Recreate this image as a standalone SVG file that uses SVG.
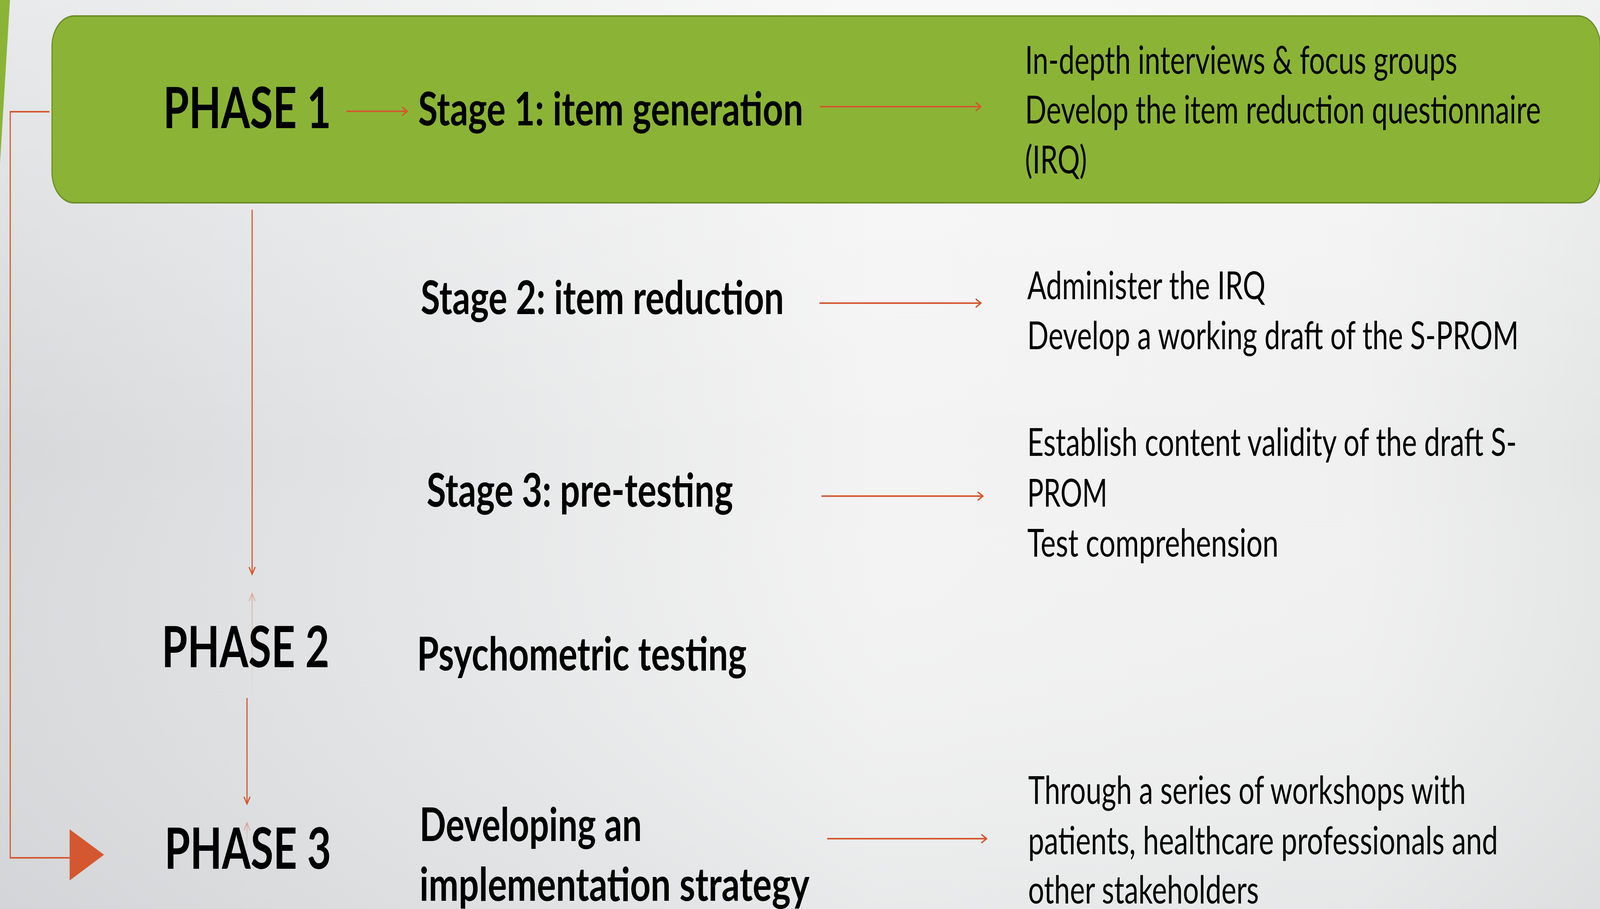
<svg xmlns="http://www.w3.org/2000/svg" width="5629" height="2327" viewBox="0 0 5629 2327" preserveAspectRatio="none" style="width:100vw;height:100vh;display:block">
  <defs>
    <linearGradient id="bgH" x1="0" y1="0" x2="1" y2="0">
      <stop offset="0" stop-color="#d6d8da"/>
      <stop offset="0.55" stop-color="#f3f3f3"/>
      <stop offset="0.85" stop-color="#f0f0f0"/>
      <stop offset="1" stop-color="#e4e5e5"/>
    </linearGradient>
    <linearGradient id="bgV" x1="0" y1="0" x2="0" y2="1">
      <stop offset="0" stop-color="#ffffff" stop-opacity="0.45"/>
      <stop offset="0.5" stop-color="#ffffff" stop-opacity="0"/>
      <stop offset="1" stop-color="#c8ccce" stop-opacity="0.25"/>
    </linearGradient>
    <linearGradient id="fade1" gradientUnits="userSpaceOnUse" x1="0" y1="1520" x2="0" y2="1780">
      <stop offset="0" stop-color="#D4572F" stop-opacity="0.3"/>
      <stop offset="1" stop-color="#D4572F" stop-opacity="0"/>
    </linearGradient>
    <linearGradient id="fade2" gradientUnits="userSpaceOnUse" x1="0" y1="2107" x2="0" y2="2172">
      <stop offset="0" stop-color="#D4572F" stop-opacity="0.3"/>
      <stop offset="1" stop-color="#D4572F" stop-opacity="0"/>
    </linearGradient>
    <marker id="ah" viewBox="0 0 24 24" markerWidth="24" markerHeight="24" refX="21" refY="12" orient="auto" markerUnits="userSpaceOnUse">
      <path d="M4,2 L21,12 L4,22" fill="none" stroke="#D4572F" stroke-width="4" stroke-linecap="round"/>
    </marker>
    <marker id="ahFaint" viewBox="0 0 24 24" markerWidth="24" markerHeight="24" refX="21" refY="12" orient="auto" markerUnits="userSpaceOnUse">
      <path d="M4,2 L21,12 L4,22" fill="none" stroke="#D4572F" stroke-opacity="0.3" stroke-width="4" stroke-linecap="round"/>
    </marker>
  </defs>
  <style>
    .phase { font-family: Lato, "Liberation Sans", sans-serif; font-weight: bold; font-size: 146px; fill: #000; }
    .stage { font-family: Lato, "Liberation Sans", sans-serif; font-weight: bold; font-size: 118px; fill: #000; }
    .body { font-family: Lato, "Liberation Sans", sans-serif; font-weight: normal; font-size: 98px; fill: #000; }
    .conn { fill: none; stroke: #D4572F; stroke-width: 4; }
  </style>

  <rect x="0" y="0" width="5629" height="2327" fill="url(#bgH)"/>
  <rect x="0" y="0" width="5629" height="2327" fill="url(#bgV)"/>
  <polygon points="0,0 35,0 0,418" fill="#8bb436"/>

  <g id="phase1-box">
    <rect x="183" y="41" width="5447" height="478" rx="78" ry="78" fill="#8bb436" stroke="#6b8e2a" stroke-width="4"/>
  </g>

  <g id="phase1">
    <text class="phase" x="574" y="328" textLength="591" lengthAdjust="spacingAndGlyphs">PHASE 1</text>
  </g>
  <g id="phase2">
    <text class="phase" x="569" y="1708" textLength="590" lengthAdjust="spacingAndGlyphs">PHASE 2</text>
  </g>
  <g id="phase3">
    <text class="phase" x="579" y="2224" textLength="586" lengthAdjust="spacingAndGlyphs">PHASE 3</text>
  </g>

  <g id="stage1">
    <text class="stage" x="1471" y="321" textLength="1355" lengthAdjust="spacingAndGlyphs">Stage 1: item generation</text>
  </g>
  <g id="stage2">
    <text class="stage" x="1480" y="804" textLength="1278" lengthAdjust="spacingAndGlyphs">Stage 2: item reduction</text>
  </g>
  <g id="stage3">
    <text class="stage" x="1501" y="1297" textLength="1078" lengthAdjust="spacingAndGlyphs">Stage 3: pre-testing</text>
  </g>
  <g id="psychometric">
    <text class="stage" x="1467" y="1716" textLength="1160" lengthAdjust="spacingAndGlyphs">Psychometric testing</text>
  </g>
  <g id="implementation">
    <text class="stage" x="1476" y="2153" textLength="782" lengthAdjust="spacingAndGlyphs">Developing an</text>
    <text class="stage" x="1476" y="2306" textLength="1372" lengthAdjust="spacingAndGlyphs">implementation strategy</text>
  </g>

  <g id="stage1-details">
    <text class="body" x="3606" y="189" textLength="1521" lengthAdjust="spacingAndGlyphs">In-depth interviews &amp; focus groups</text>
    <text class="body" x="3606" y="316" textLength="1815" lengthAdjust="spacingAndGlyphs">Develop the item reduction questionnaire</text>
    <text class="body" x="3606" y="444" textLength="218" lengthAdjust="spacingAndGlyphs">(IRQ)</text>
  </g>
  <g id="stage2-details">
    <text class="body" x="3614" y="766" textLength="838" lengthAdjust="spacingAndGlyphs">Administer the IRQ</text>
    <text class="body" x="3614" y="894" textLength="1729" lengthAdjust="spacingAndGlyphs">Develop a working draft of the S-PROM</text>
  </g>
  <g id="stage3-details">
    <text class="body" x="3614" y="1167" textLength="1722" lengthAdjust="spacingAndGlyphs">Establish content validity of the draft S-</text>
    <text class="body" x="3614" y="1297" textLength="282" lengthAdjust="spacingAndGlyphs">PROM</text>
    <text class="body" x="3614" y="1425" textLength="884" lengthAdjust="spacingAndGlyphs">Test comprehension</text>
  </g>
  <g id="phase3-details">
    <text class="body" x="3617" y="2058" textLength="1540" lengthAdjust="spacingAndGlyphs">Through a series of workshops with</text>
    <text class="body" x="3617" y="2187" textLength="1653" lengthAdjust="spacingAndGlyphs">patients, healthcare professionals and</text>
    <text class="body" x="3617" y="2313" textLength="812" lengthAdjust="spacingAndGlyphs">other stakeholders</text>
  </g>

  <g id="connectors">
    <line class="conn" x1="1219" y1="285" x2="1433" y2="285" marker-end="url(#ah)"/>
    <line class="conn" x1="2884" y1="273" x2="3451" y2="273" marker-end="url(#ah)"/>
    <line class="conn" x1="2883" y1="776" x2="3451" y2="776" marker-end="url(#ah)"/>
    <line class="conn" x1="2890" y1="1270" x2="3458" y2="1270" marker-end="url(#ah)"/>
    <line class="conn" x1="2910" y1="2147" x2="3471" y2="2147" marker-end="url(#ah)"/>
    <line class="conn" x1="887" y1="537" x2="887" y2="1470" marker-end="url(#ah)"/>
    <line fill="none" stroke="url(#fade1)" stroke-width="4" x1="887" y1="1778" x2="887" y2="1520" marker-end="url(#ahFaint)"/>
    <line class="conn" x1="869" y1="1787" x2="869" y2="2058" marker-end="url(#ah)"/>
    <line fill="none" stroke="url(#fade2)" stroke-width="4" x1="869" y1="2170" x2="869" y2="2107" marker-end="url(#ahFaint)"/>
    <polyline class="conn" stroke-width="3.5" points="174,286 36,286 36,2196 245,2196"/>
    <polygon points="245,2123 366,2188 245,2254" fill="#D4572F"/>
  </g>
</svg>
